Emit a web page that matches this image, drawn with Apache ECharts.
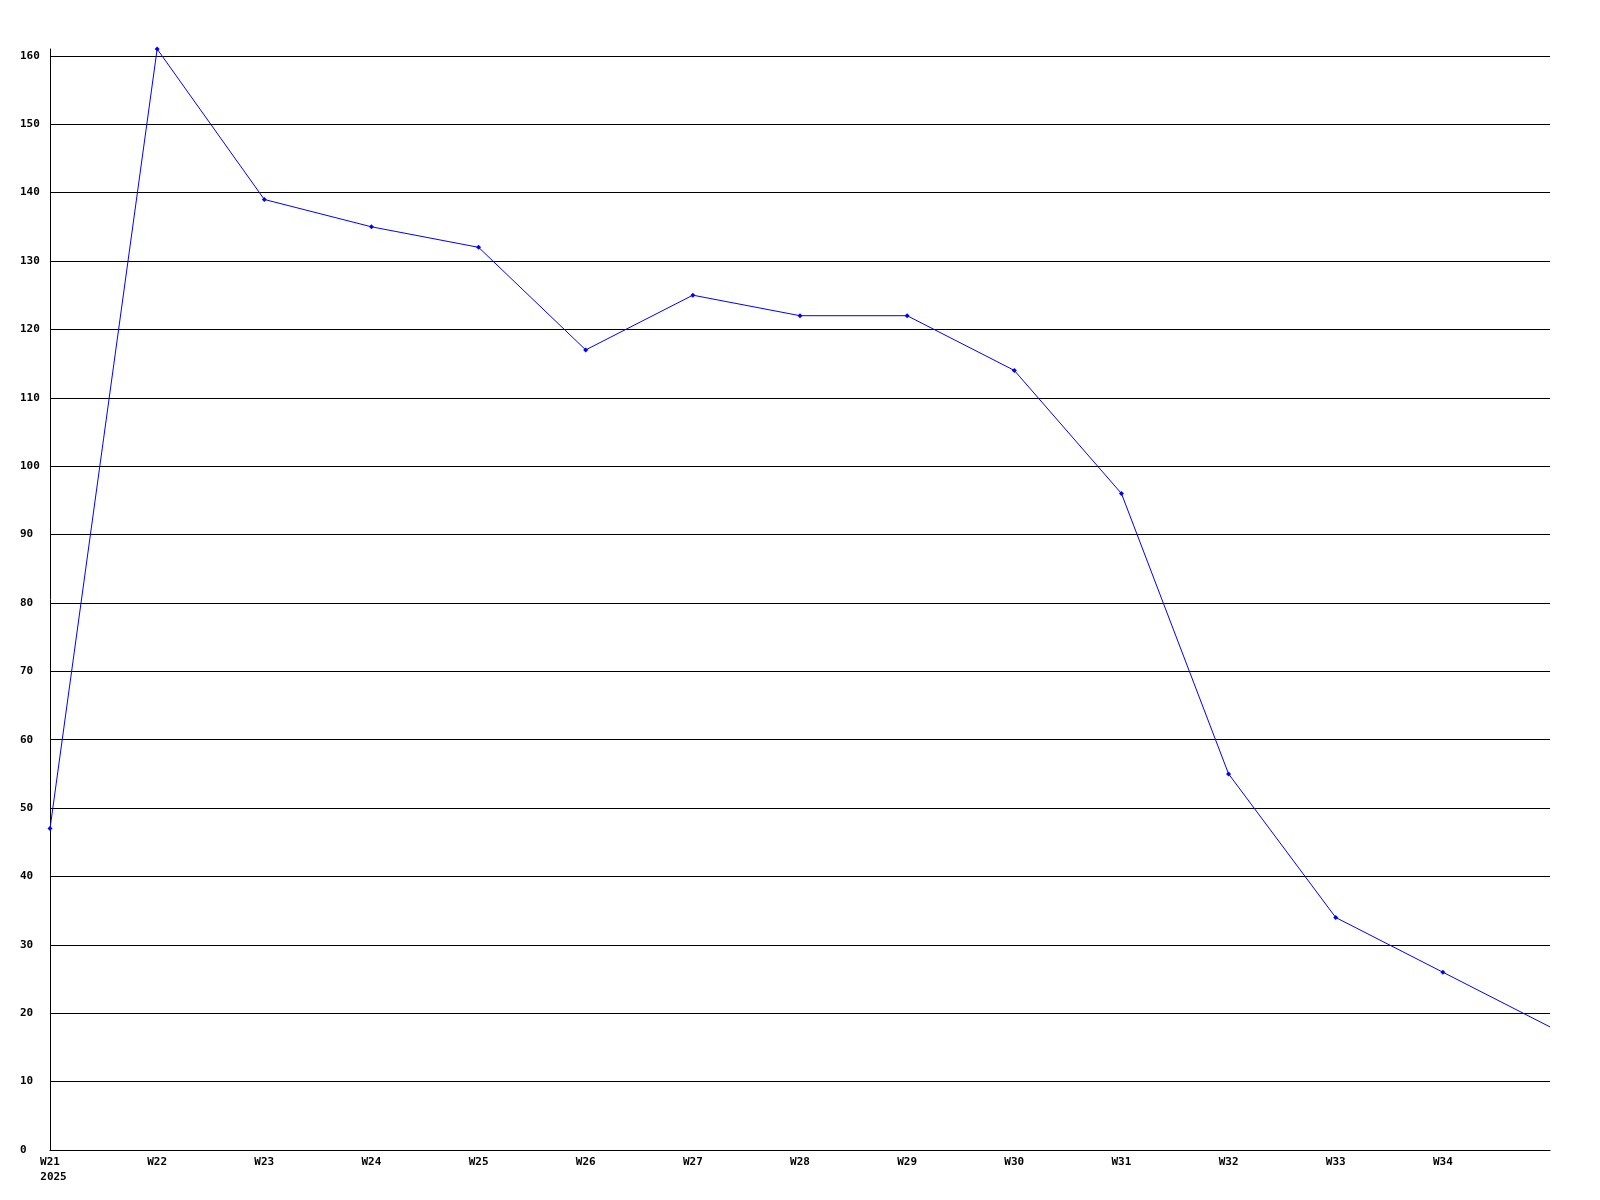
<!DOCTYPE html>
<html><head><meta charset="utf-8">
<script src="https://cdn.jsdelivr.net/npm/echarts@6/dist/echarts.min.js"></script>
<style>html,body{margin:0;padding:0;background:#fff}#c{width:1600px;height:1200px}</style>
</head><body><div id="c"></div>
<script>
const weeks = ['W21','W22','W23','W24','W25','W26','W27','W28','W29','W30','W31','W32','W33','W34','W35'];
const values = [47,161,139,135,132,117,125,122,122,114,96,55,34,26,18];
const yearLabel = '2025';

const font = {fontFamily:'DejaVu Sans Mono', fontWeight:'bold', fontSize:11, color:'#000'};
const chart = echarts.init(document.getElementById('c'), null, {renderer:'canvas'});
chart.setOption({
  animation:false,
  backgroundColor:'#fff',
  grid:{left:50, right:50, top:49, bottom:50, containLabel:false},
  xAxis:{
    type:'category', data:weeks, boundaryGap:false,
    axisLine:{lineStyle:{color:'#000', width:1}},
    axisTick:{show:false},
    splitLine:{show:false},
    axisLabel:Object.assign({}, font, {
      interval:0, margin:5, lineHeight:15, showMaxLabel:false,
      formatter:(v,i)=> i===0 ? '{a|'+v+'}\n{b|'+yearLabel+'}' : (i===weeks.length-1 ? '' : v),
      rich:{
        a:Object.assign({}, font, {lineHeight:15, padding:[0,7,0,7]}),
        b:Object.assign({}, font, {lineHeight:15, padding:[0,0,0,7]})
      }
    })
  },
  yAxis:{
    type:'value', min:0, max:161, interval:10,
    axisLine:{show:true, lineStyle:{color:'#000', width:1}},
    axisTick:{show:false},
    splitLine:{show:true, showMaxLine:false, lineStyle:{color:'#000', width:1}},
    axisLabel:Object.assign({}, font, {align:'left', margin:30, showMaxLabel:false,
      formatter:v=> (v%10===0 ? String(v) : '')})
  },
  series:[{
    type:'line', data:values,
    lineStyle:{color:'#0000ff', width:1},
    itemStyle:{color:'#0000ff'},
    symbol:(v,p)=> p.dataIndex===values.length-1 ? 'none' : 'diamond',
    symbolSize:5, showAllSymbol:true, clip:false
  }]
});
</script></body></html>
